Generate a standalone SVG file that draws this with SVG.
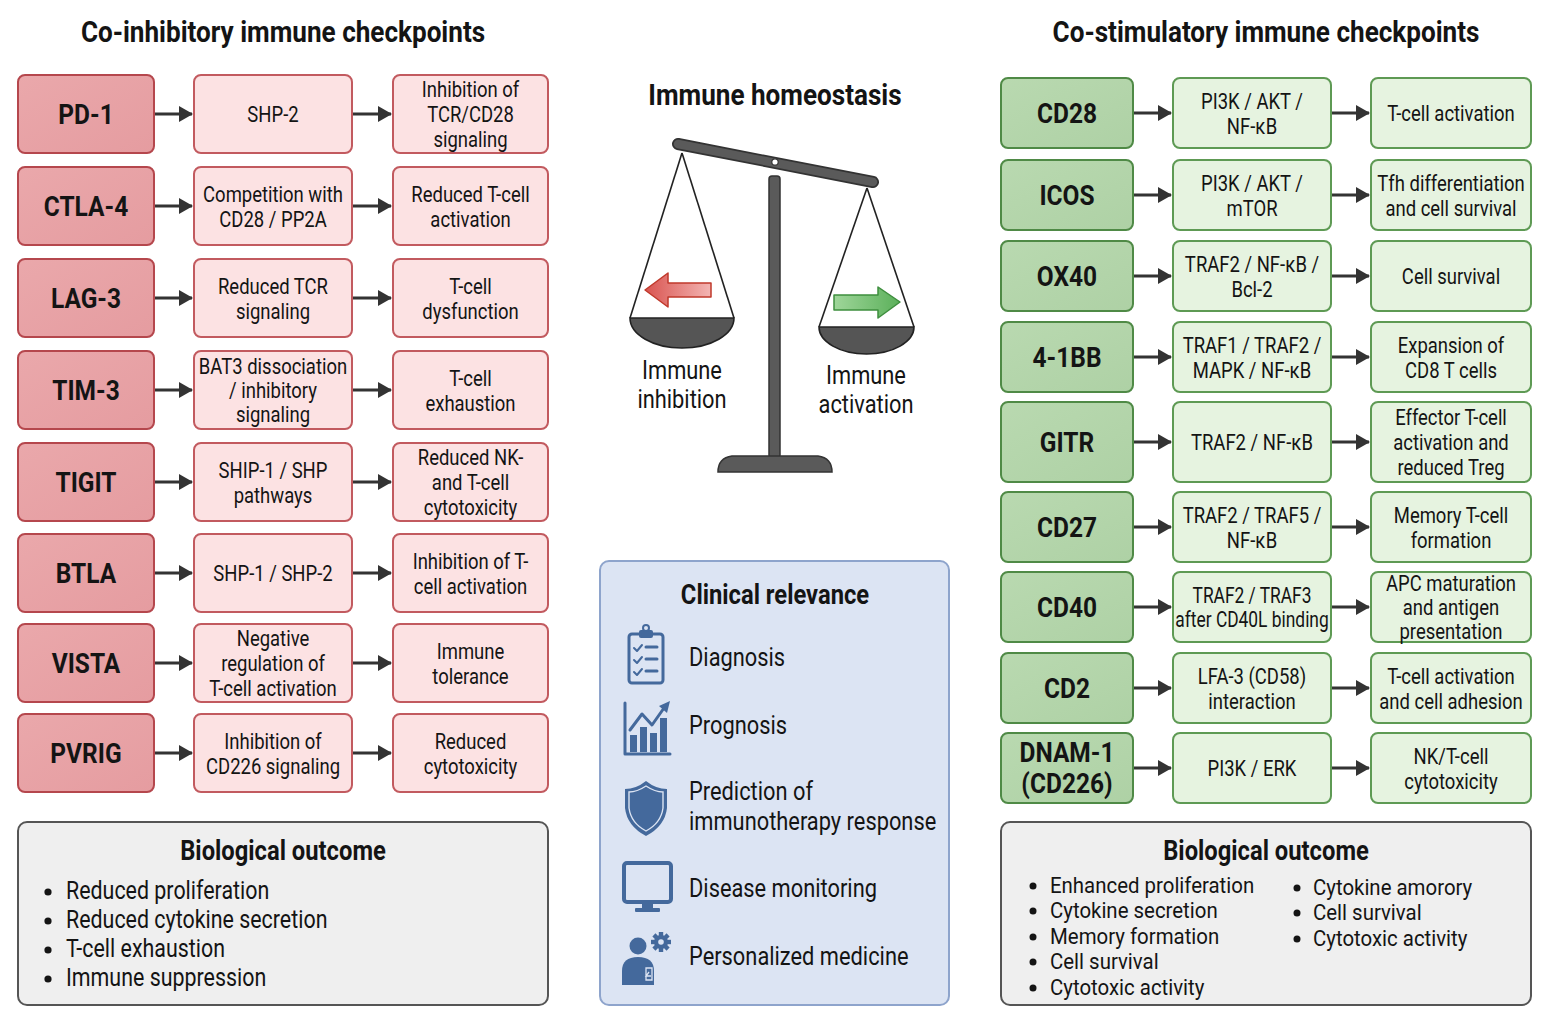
<svg xmlns="http://www.w3.org/2000/svg" width="1550" height="1024" viewBox="0 0 1550 1024">
<defs>
<style>
text{font-family:Roboto,"Liberation Sans",sans-serif;fill:#141414}
.h{font-size:30px;font-weight:700;text-anchor:middle}
.lb{font-size:28.5px;font-weight:700;text-anchor:middle}
.tx{font-size:22px;text-anchor:middle}
.bt{font-size:27px;font-weight:700;text-anchor:middle}
.li{font-size:25.5px}
.lr{font-size:21.5px}
.ci{font-size:26px}
.sl{font-size:26px;text-anchor:middle}
.r1{fill:#e8a4a7;stroke:#b5474d;stroke-width:2}
.r2{fill:#fce2e3;stroke:#c25a5f;stroke-width:2}
.g1{fill:#b5d6ac;stroke:#4f8a46;stroke-width:2}
.g2{fill:#e6f3e0;stroke:#5e9a54;stroke-width:2}
.con line{stroke:#333;stroke-width:3}
.ic{fill:#44699c}
.ics{fill:none;stroke:#44699c;stroke-width:3;stroke-linecap:round;stroke-linejoin:round}
</style>
<marker id="ah" markerUnits="userSpaceOnUse" markerWidth="14" markerHeight="16" refX="13" refY="8" orient="auto">
<path d="M0,0 L14,8 L0,16 Z" fill="#333"/>
</marker>
<linearGradient id="redg" x1="0" x2="1" y1="0" y2="0"><stop offset="0" stop-color="#d9534f"/><stop offset="1" stop-color="#f3b5b3"/></linearGradient>
<linearGradient id="grng" x1="0" x2="1" y1="0" y2="0"><stop offset="0" stop-color="#9fd69a"/><stop offset="1" stop-color="#5bb05a"/></linearGradient>
<linearGradient id="r1g" x1="0" x2="1" y1="0" y2="1"><stop offset="0" stop-color="#eaa8ab"/><stop offset="1" stop-color="#e59ca0"/></linearGradient>
<linearGradient id="g1g" x1="0" x2="1" y1="0" y2="1"><stop offset="0" stop-color="#b9d9b0"/><stop offset="1" stop-color="#aed1a5"/></linearGradient>
</defs>
<rect width="1550" height="1024" fill="#ffffff"/>

<!-- Titles -->
<text class="h" transform="translate(283,42) scale(0.87,1)">Co-inhibitory immune checkpoints</text>
<text class="h" transform="translate(1266,42) scale(0.87,1)">Co-stimulatory immune checkpoints</text>
<text class="h" transform="translate(775,105) scale(0.87,1)">Immune homeostasis</text>

<!-- LEFT COLUMN NODES -->
<g id="pd1"><rect class="r1" style="fill:url(#r1g)" x="18" y="75" width="136" height="78" rx="7"/><text class="lb" transform="translate(86,114) scale(0.86,1)"><tspan x="0" y="10">PD-1</tspan></text></g>
<g id="pd1-m"><rect class="r2" x="194" y="75" width="158" height="78" rx="7"/><text class="tx" transform="translate(273,114) scale(0.84,1)"><tspan x="0" y="8">SHP-2</tspan></text></g>
<g id="pd1-o"><rect class="r2" x="393" y="75" width="155" height="78" rx="7"/><text class="tx" transform="translate(470.5,114) scale(0.84,1)"><tspan x="0" y="-17">Inhibition of</tspan><tspan x="0" y="8">TCR/CD28</tspan><tspan x="0" y="33">signaling</tspan></text></g>

<g id="ctla4"><rect class="r1" style="fill:url(#r1g)" x="18" y="167" width="136" height="78" rx="7"/><text class="lb" transform="translate(86,206) scale(0.86,1)"><tspan x="0" y="10">CTLA-4</tspan></text></g>
<g id="ctla4-m"><rect class="r2" x="194" y="167" width="158" height="78" rx="7"/><text class="tx" transform="translate(273,206) scale(0.84,1)"><tspan x="0" y="-4.5">Competition with</tspan><tspan x="0" y="20.5">CD28 / PP2A</tspan></text></g>
<g id="ctla4-o"><rect class="r2" x="393" y="167" width="155" height="78" rx="7"/><text class="tx" transform="translate(470.5,206) scale(0.84,1)"><tspan x="0" y="-4.5">Reduced T-cell</tspan><tspan x="0" y="20.5">activation</tspan></text></g>

<g id="lag3"><rect class="r1" style="fill:url(#r1g)" x="18" y="259" width="136" height="78" rx="7"/><text class="lb" transform="translate(86,298) scale(0.86,1)"><tspan x="0" y="10">LAG-3</tspan></text></g>
<g id="lag3-m"><rect class="r2" x="194" y="259" width="158" height="78" rx="7"/><text class="tx" transform="translate(273,298) scale(0.84,1)"><tspan x="0" y="-4.5">Reduced TCR</tspan><tspan x="0" y="20.5">signaling</tspan></text></g>
<g id="lag3-o"><rect class="r2" x="393" y="259" width="155" height="78" rx="7"/><text class="tx" transform="translate(470.5,298) scale(0.84,1)"><tspan x="0" y="-4.5">T-cell</tspan><tspan x="0" y="20.5">dysfunction</tspan></text></g>

<g id="tim3"><rect class="r1" style="fill:url(#r1g)" x="18" y="351" width="136" height="78" rx="7"/><text class="lb" transform="translate(86,390) scale(0.86,1)"><tspan x="0" y="10">TIM-3</tspan></text></g>
<g id="tim3-m"><rect class="r2" x="194" y="351" width="158" height="78" rx="7"/><text class="tx" transform="translate(273,390) scale(0.84,1)"><tspan x="0" y="-16">BAT3 dissociation</tspan><tspan x="0" y="8">/ inhibitory</tspan><tspan x="0" y="32">signaling</tspan></text></g>
<g id="tim3-o"><rect class="r2" x="393" y="351" width="155" height="78" rx="7"/><text class="tx" transform="translate(470.5,390) scale(0.84,1)"><tspan x="0" y="-4.5">T-cell</tspan><tspan x="0" y="20.5">exhaustion</tspan></text></g>

<g id="tigit"><rect class="r1" style="fill:url(#r1g)" x="18" y="443" width="136" height="78" rx="7"/><text class="lb" transform="translate(86,482) scale(0.86,1)"><tspan x="0" y="10">TIGIT</tspan></text></g>
<g id="tigit-m"><rect class="r2" x="194" y="443" width="158" height="78" rx="7"/><text class="tx" transform="translate(273,482) scale(0.84,1)"><tspan x="0" y="-4.5">SHIP-1 / SHP</tspan><tspan x="0" y="20.5">pathways</tspan></text></g>
<g id="tigit-o"><rect class="r2" x="393" y="443" width="155" height="78" rx="7"/><text class="tx" transform="translate(470.5,482) scale(0.84,1)"><tspan x="0" y="-17">Reduced NK-</tspan><tspan x="0" y="8">and T-cell</tspan><tspan x="0" y="33">cytotoxicity</tspan></text></g>

<g id="btla"><rect class="r1" style="fill:url(#r1g)" x="18" y="534" width="136" height="78" rx="7"/><text class="lb" transform="translate(86,573) scale(0.86,1)"><tspan x="0" y="10">BTLA</tspan></text></g>
<g id="btla-m"><rect class="r2" x="194" y="534" width="158" height="78" rx="7"/><text class="tx" transform="translate(273,573) scale(0.84,1)"><tspan x="0" y="8">SHP-1 / SHP-2</tspan></text></g>
<g id="btla-o"><rect class="r2" x="393" y="534" width="155" height="78" rx="7"/><text class="tx" transform="translate(470.5,573) scale(0.84,1)"><tspan x="0" y="-4.5">Inhibition of T-</tspan><tspan x="0" y="20.5">cell activation</tspan></text></g>

<g id="vista"><rect class="r1" style="fill:url(#r1g)" x="18" y="624" width="136" height="78" rx="7"/><text class="lb" transform="translate(86,663) scale(0.86,1)"><tspan x="0" y="10">VISTA</tspan></text></g>
<g id="vista-m"><rect class="r2" x="194" y="624" width="158" height="78" rx="7"/><text class="tx" transform="translate(273,663) scale(0.84,1)"><tspan x="0" y="-17">Negative</tspan><tspan x="0" y="8">regulation of</tspan><tspan x="0" y="33">T-cell activation</tspan></text></g>
<g id="vista-o"><rect class="r2" x="393" y="624" width="155" height="78" rx="7"/><text class="tx" transform="translate(470.5,663) scale(0.84,1)"><tspan x="0" y="-4.5">Immune</tspan><tspan x="0" y="20.5">tolerance</tspan></text></g>

<g id="pvrig"><rect class="r1" style="fill:url(#r1g)" x="18" y="714" width="136" height="78" rx="7"/><text class="lb" transform="translate(86,753) scale(0.86,1)"><tspan x="0" y="10">PVRIG</tspan></text></g>
<g id="pvrig-m"><rect class="r2" x="194" y="714" width="158" height="78" rx="7"/><text class="tx" transform="translate(273,753) scale(0.84,1)"><tspan x="0" y="-4.5">Inhibition of</tspan><tspan x="0" y="20.5">CD226 signaling</tspan></text></g>
<g id="pvrig-o"><rect class="r2" x="393" y="714" width="155" height="78" rx="7"/><text class="tx" transform="translate(470.5,753) scale(0.84,1)"><tspan x="0" y="-4.5">Reduced</tspan><tspan x="0" y="20.5">cytotoxicity</tspan></text></g>

<!-- RIGHT COLUMN NODES -->
<g id="cd28"><rect class="g1" style="fill:url(#g1g)" x="1001" y="78" width="132" height="70" rx="7"/><text class="lb" transform="translate(1067,113) scale(0.86,1)"><tspan x="0" y="10">CD28</tspan></text></g>
<g id="cd28-m"><rect class="g2" x="1173" y="78" width="158" height="70" rx="7"/><text class="tx" transform="translate(1252,113) scale(0.84,1)"><tspan x="0" y="-4.5">PI3K / AKT /</tspan><tspan x="0" y="20.5">NF-κB</tspan></text></g>
<g id="cd28-o"><rect class="g2" x="1371" y="78" width="160" height="70" rx="7"/><text class="tx" transform="translate(1451,113) scale(0.84,1)"><tspan x="0" y="8">T-cell activation</tspan></text></g>

<g id="icos"><rect class="g1" style="fill:url(#g1g)" x="1001" y="160" width="132" height="70" rx="7"/><text class="lb" transform="translate(1067,195) scale(0.86,1)"><tspan x="0" y="10">ICOS</tspan></text></g>
<g id="icos-m"><rect class="g2" x="1173" y="160" width="158" height="70" rx="7"/><text class="tx" transform="translate(1252,195) scale(0.84,1)"><tspan x="0" y="-4.5">PI3K / AKT /</tspan><tspan x="0" y="20.5">mTOR</tspan></text></g>
<g id="icos-o"><rect class="g2" x="1371" y="160" width="160" height="70" rx="7"/><text class="tx" transform="translate(1451,195) scale(0.84,1)"><tspan x="0" y="-4.5">Tfh differentiation</tspan><tspan x="0" y="20.5">and cell survival</tspan></text></g>

<g id="ox40"><rect class="g1" style="fill:url(#g1g)" x="1001" y="241" width="132" height="70" rx="7"/><text class="lb" transform="translate(1067,276) scale(0.86,1)"><tspan x="0" y="10">OX40</tspan></text></g>
<g id="ox40-m"><rect class="g2" x="1173" y="241" width="158" height="70" rx="7"/><text class="tx" transform="translate(1252,276) scale(0.84,1)"><tspan x="0" y="-4.5">TRAF2 / NF-κB /</tspan><tspan x="0" y="20.5">Bcl-2</tspan></text></g>
<g id="ox40-o"><rect class="g2" x="1371" y="241" width="160" height="70" rx="7"/><text class="tx" transform="translate(1451,276) scale(0.84,1)"><tspan x="0" y="8">Cell survival</tspan></text></g>

<g id="cd137"><rect class="g1" style="fill:url(#g1g)" x="1001" y="322" width="132" height="70" rx="7"/><text class="lb" transform="translate(1067,357) scale(0.86,1)"><tspan x="0" y="10">4-1BB</tspan></text></g>
<g id="cd137-m"><rect class="g2" x="1173" y="322" width="158" height="70" rx="7"/><text class="tx" transform="translate(1252,357) scale(0.84,1)"><tspan x="0" y="-4.5">TRAF1 / TRAF2 /</tspan><tspan x="0" y="20.5">MAPK / NF-κB</tspan></text></g>
<g id="cd137-o"><rect class="g2" x="1371" y="322" width="160" height="70" rx="7"/><text class="tx" transform="translate(1451,357) scale(0.84,1)"><tspan x="0" y="-4.5">Expansion of</tspan><tspan x="0" y="20.5">CD8 T cells</tspan></text></g>

<g id="gitr"><rect class="g1" style="fill:url(#g1g)" x="1001" y="402" width="132" height="80" rx="7"/><text class="lb" transform="translate(1067,442) scale(0.86,1)"><tspan x="0" y="10">GITR</tspan></text></g>
<g id="gitr-m"><rect class="g2" x="1173" y="402" width="158" height="80" rx="7"/><text class="tx" transform="translate(1252,442) scale(0.84,1)"><tspan x="0" y="8">TRAF2 / NF-κB</tspan></text></g>
<g id="gitr-o"><rect class="g2" x="1371" y="402" width="160" height="80" rx="7"/><text class="tx" transform="translate(1451,442) scale(0.84,1)"><tspan x="0" y="-17">Effector T-cell</tspan><tspan x="0" y="8">activation and</tspan><tspan x="0" y="33">reduced Treg</tspan></text></g>

<g id="cd27"><rect class="g1" style="fill:url(#g1g)" x="1001" y="492" width="132" height="70" rx="7"/><text class="lb" transform="translate(1067,527) scale(0.86,1)"><tspan x="0" y="10">CD27</tspan></text></g>
<g id="cd27-m"><rect class="g2" x="1173" y="492" width="158" height="70" rx="7"/><text class="tx" transform="translate(1252,527) scale(0.84,1)"><tspan x="0" y="-4.5">TRAF2 / TRAF5 /</tspan><tspan x="0" y="20.5">NF-κB</tspan></text></g>
<g id="cd27-o"><rect class="g2" x="1371" y="492" width="160" height="70" rx="7"/><text class="tx" transform="translate(1451,527) scale(0.84,1)"><tspan x="0" y="-4.5">Memory T-cell</tspan><tspan x="0" y="20.5">formation</tspan></text></g>

<g id="cd40"><rect class="g1" style="fill:url(#g1g)" x="1001" y="572" width="132" height="70" rx="7"/><text class="lb" transform="translate(1067,607) scale(0.86,1)"><tspan x="0" y="10">CD40</tspan></text></g>
<g id="cd40-m"><rect class="g2" x="1173" y="572" width="158" height="70" rx="7"/><text class="tx" transform="translate(1252,607) scale(0.79,1)"><tspan x="0" y="-4.5">TRAF2 / TRAF3</tspan><tspan x="0" y="20.5">after CD40L binding</tspan></text></g>
<g id="cd40-o"><rect class="g2" x="1371" y="572" width="160" height="70" rx="7"/><text class="tx" transform="translate(1451,607) scale(0.84,1)"><tspan x="0" y="-16">APC maturation</tspan><tspan x="0" y="8">and antigen</tspan><tspan x="0" y="32">presentation</tspan></text></g>

<g id="cd2"><rect class="g1" style="fill:url(#g1g)" x="1001" y="653" width="132" height="70" rx="7"/><text class="lb" transform="translate(1067,688) scale(0.86,1)"><tspan x="0" y="10">CD2</tspan></text></g>
<g id="cd2-m"><rect class="g2" x="1173" y="653" width="158" height="70" rx="7"/><text class="tx" transform="translate(1252,688) scale(0.84,1)"><tspan x="0" y="-4.5">LFA-3 (CD58)</tspan><tspan x="0" y="20.5">interaction</tspan></text></g>
<g id="cd2-o"><rect class="g2" x="1371" y="653" width="160" height="70" rx="7"/><text class="tx" transform="translate(1451,688) scale(0.84,1)"><tspan x="0" y="-4.5">T-cell activation</tspan><tspan x="0" y="20.5">and cell adhesion</tspan></text></g>

<g id="dnam1"><rect class="g1" style="fill:url(#g1g)" x="1001" y="733" width="132" height="70" rx="7"/><text class="lb" transform="translate(1067,768) scale(0.86,1)"><tspan x="0" y="-6">DNAM-1</tspan><tspan x="0" y="25">(CD226)</tspan></text></g>
<g id="dnam1-m"><rect class="g2" x="1173" y="733" width="158" height="70" rx="7"/><text class="tx" transform="translate(1252,768) scale(0.84,1)"><tspan x="0" y="8">PI3K / ERK</tspan></text></g>
<g id="dnam1-o"><rect class="g2" x="1371" y="733" width="160" height="70" rx="7"/><text class="tx" transform="translate(1451,768) scale(0.84,1)"><tspan x="0" y="-4.5">NK/T-cell</tspan><tspan x="0" y="20.5">cytotoxicity</tspan></text></g>

<!-- CONNECTORS -->
<g id="connectors" class="con">
<line x1="155" y1="114" x2="192" y2="114" marker-end="url(#ah)"/><line x1="353" y1="114" x2="391" y2="114" marker-end="url(#ah)"/>
<line x1="155" y1="206" x2="192" y2="206" marker-end="url(#ah)"/><line x1="353" y1="206" x2="391" y2="206" marker-end="url(#ah)"/>
<line x1="155" y1="298" x2="192" y2="298" marker-end="url(#ah)"/><line x1="353" y1="298" x2="391" y2="298" marker-end="url(#ah)"/>
<line x1="155" y1="390" x2="192" y2="390" marker-end="url(#ah)"/><line x1="353" y1="390" x2="391" y2="390" marker-end="url(#ah)"/>
<line x1="155" y1="482" x2="192" y2="482" marker-end="url(#ah)"/><line x1="353" y1="482" x2="391" y2="482" marker-end="url(#ah)"/>
<line x1="155" y1="573" x2="192" y2="573" marker-end="url(#ah)"/><line x1="353" y1="573" x2="391" y2="573" marker-end="url(#ah)"/>
<line x1="155" y1="663" x2="192" y2="663" marker-end="url(#ah)"/><line x1="353" y1="663" x2="391" y2="663" marker-end="url(#ah)"/>
<line x1="155" y1="753" x2="192" y2="753" marker-end="url(#ah)"/><line x1="353" y1="753" x2="391" y2="753" marker-end="url(#ah)"/>
<line x1="1134" y1="113" x2="1171" y2="113" marker-end="url(#ah)"/><line x1="1332" y1="113" x2="1369" y2="113" marker-end="url(#ah)"/>
<line x1="1134" y1="195" x2="1171" y2="195" marker-end="url(#ah)"/><line x1="1332" y1="195" x2="1369" y2="195" marker-end="url(#ah)"/>
<line x1="1134" y1="276" x2="1171" y2="276" marker-end="url(#ah)"/><line x1="1332" y1="276" x2="1369" y2="276" marker-end="url(#ah)"/>
<line x1="1134" y1="357" x2="1171" y2="357" marker-end="url(#ah)"/><line x1="1332" y1="357" x2="1369" y2="357" marker-end="url(#ah)"/>
<line x1="1134" y1="442" x2="1171" y2="442" marker-end="url(#ah)"/><line x1="1332" y1="442" x2="1369" y2="442" marker-end="url(#ah)"/>
<line x1="1134" y1="527" x2="1171" y2="527" marker-end="url(#ah)"/><line x1="1332" y1="527" x2="1369" y2="527" marker-end="url(#ah)"/>
<line x1="1134" y1="607" x2="1171" y2="607" marker-end="url(#ah)"/><line x1="1332" y1="607" x2="1369" y2="607" marker-end="url(#ah)"/>
<line x1="1134" y1="688" x2="1171" y2="688" marker-end="url(#ah)"/><line x1="1332" y1="688" x2="1369" y2="688" marker-end="url(#ah)"/>
<line x1="1134" y1="768" x2="1171" y2="768" marker-end="url(#ah)"/><line x1="1332" y1="768" x2="1369" y2="768" marker-end="url(#ah)"/>
</g>

<!-- BALANCE SCALE -->
<g id="balance">
<line x1="682" y1="153" x2="630" y2="318" stroke="#222" stroke-width="1.6"/>
<line x1="682" y1="153" x2="734" y2="318" stroke="#222" stroke-width="1.6"/>
<line x1="867" y1="188" x2="819" y2="327" stroke="#222" stroke-width="1.6"/>
<line x1="867" y1="188" x2="914" y2="327" stroke="#222" stroke-width="1.6"/>
<rect x="769" y="176" width="11" height="282" rx="3" fill="#5a5a5a" stroke="#333" stroke-width="1.5"/>
<path d="M718,472 L832,472 Q832,458 818,456 L732,456 Q718,458 718,472 Z" fill="#5a5a5a" stroke="#333" stroke-width="1.5"/>
<line x1="678" y1="144" x2="873" y2="182" stroke="#333" stroke-width="12" stroke-linecap="round"/>
<line x1="678" y1="144" x2="873" y2="182" stroke="#5a5a5a" stroke-width="8.5" stroke-linecap="round"/>
<circle cx="775" cy="162" r="3.2" fill="#fff" stroke="#333" stroke-width="1.2"/>
<path d="M630,318 A52,30 0 0 0 734,318 Z" fill="#555" stroke="#222" stroke-width="1.6"/>
<path d="M819,327 A47.5,27 0 0 0 914,327 Z" fill="#555" stroke="#222" stroke-width="1.6"/>
<polygon points="645,290 668,273 668,283 711,283 711,297 668,297 668,307" fill="url(#redg)" stroke="#c0392b" stroke-width="1.5" stroke-linejoin="round"/>
<polygon points="834,295 878,295 878,287 900,302 878,318 878,310 834,310" fill="url(#grng)" stroke="#3e8e3e" stroke-width="1.5" stroke-linejoin="round"/>
<text class="sl" transform="translate(682,379) scale(0.84,1)"><tspan x="0" y="0">Immune</tspan><tspan x="0" y="29">inhibition</tspan></text>
<text class="sl" transform="translate(866,384) scale(0.84,1)"><tspan x="0" y="0">Immune</tspan><tspan x="0" y="29">activation</tspan></text>
</g>

<!-- CLINICAL RELEVANCE -->
<g id="clinical">
<rect x="600" y="561" width="349" height="444" rx="9" fill="#dce4f3" stroke="#8ea4cc" stroke-width="2"/>
<text class="bt" transform="translate(775,604) scale(0.88,1)">Clinical relevance</text>
<!-- clipboard -->
<rect x="629" y="634" width="34" height="49" rx="3" class="ics"/>
<rect x="639" y="630" width="14" height="8" rx="2" class="ic"/>
<circle cx="646" cy="628" r="3" fill="none" stroke="#44699c" stroke-width="2"/>
<path d="M634,648 l3,3 l5,-6 M634,660 l3,3 l5,-6 M634,672 l3,3 l5,-6" class="ics" style="stroke-width:2"/>
<path d="M646,647 h11 M646,659 h11 M646,671 h11" class="ics"/>
<!-- chart -->
<path d="M625,703 L625,754 L670,754" class="ics"/>
<rect x="630" y="735" width="7" height="17" class="ic"/>
<rect x="640" y="727" width="7" height="25" class="ic"/>
<rect x="650" y="733" width="7" height="19" class="ic"/>
<rect x="660" y="718" width="7" height="34" class="ic"/>
<polyline points="630,730 642,714 652,725 664,708" class="ics"/>
<path d="M659,706 L670,701 L667,713 Z" class="ic"/>
<!-- shield -->
<path d="M646,781 Q656,789 667,789 L667,808 Q665,826 646,836 Q627,826 625,808 L625,789 Q636,789 646,781 Z" class="ic"/>
<path d="M646,786 Q655,792 663,792 L663,808 Q661,823 646,831 Q631,823 629,808 L629,792 Q637,792 646,786 Z" fill="none" stroke="#dce4f3" stroke-width="1.4"/>
<!-- monitor -->
<rect x="624" y="863" width="47" height="39" rx="3" fill="none" stroke="#44699c" stroke-width="4"/>
<rect x="642" y="902" width="11" height="7" class="ic"/>
<rect x="635" y="908" width="25" height="4" rx="1" class="ic"/>
<!-- person + gear -->
<circle cx="638" cy="946" r="8.5" class="ic"/>
<path d="M622,985 L622,971 Q622,957 638,957 Q654,957 654,971 L654,985 Z" class="ic"/>
<path d="M646,968 h6 v12 h-6 z M649,972 l-3,4 h5" fill="none" stroke="#dce4f3" stroke-width="1.3"/>
<g transform="translate(661,942)" class="ic">
<circle r="7"/>
<rect x="-2.2" y="-10" width="4.4" height="5" transform="rotate(0)"/>
<rect x="-2.2" y="-10" width="4.4" height="5" transform="rotate(45)"/>
<rect x="-2.2" y="-10" width="4.4" height="5" transform="rotate(90)"/>
<rect x="-2.2" y="-10" width="4.4" height="5" transform="rotate(135)"/>
<rect x="-2.2" y="-10" width="4.4" height="5" transform="rotate(180)"/>
<rect x="-2.2" y="-10" width="4.4" height="5" transform="rotate(225)"/>
<rect x="-2.2" y="-10" width="4.4" height="5" transform="rotate(270)"/>
<rect x="-2.2" y="-10" width="4.4" height="5" transform="rotate(315)"/>
<circle r="2.8" fill="#dce4f3"/>
</g>
<text class="ci" transform="translate(689,666) scale(0.84,1)">Diagnosis</text>
<text class="ci" transform="translate(689,734) scale(0.84,1)">Prognosis</text>
<text class="ci" transform="translate(689,800) scale(0.84,1)"><tspan x="0" y="0">Prediction of</tspan><tspan x="0" y="30">immunotherapy response</tspan></text>
<text class="ci" transform="translate(689,897) scale(0.84,1)">Disease monitoring</text>
<text class="ci" transform="translate(689,965) scale(0.84,1)">Personalized medicine</text>
</g>

<!-- BIOLOGICAL OUTCOME LEFT -->
<g id="outcome-inhibitory">
<rect x="18" y="822" width="530" height="183" rx="9" fill="#efefef" stroke="#555" stroke-width="2"/>
<text class="bt" transform="translate(283,860) scale(0.88,1)">Biological outcome</text>
<circle cx="48" cy="892" r="3.6" fill="#141414"/><circle cx="48" cy="921" r="3.6" fill="#141414"/><circle cx="48" cy="950" r="3.6" fill="#141414"/><circle cx="48" cy="979" r="3.6" fill="#141414"/>
<text class="li" transform="translate(66,899) scale(0.84,1)">Reduced proliferation</text>
<text class="li" transform="translate(66,928) scale(0.84,1)">Reduced cytokine secretion</text>
<text class="li" transform="translate(66,957) scale(0.84,1)">T-cell exhaustion</text>
<text class="li" transform="translate(66,986) scale(0.84,1)">Immune suppression</text>
</g>

<!-- BIOLOGICAL OUTCOME RIGHT -->
<g id="outcome-stimulatory">
<rect x="1001" y="822" width="530" height="183" rx="9" fill="#efefef" stroke="#555" stroke-width="2"/>
<text class="bt" transform="translate(1266,860) scale(0.88,1)">Biological outcome</text>
<circle cx="1033" cy="886" r="3.5" fill="#141414"/><circle cx="1033" cy="911" r="3.5" fill="#141414"/><circle cx="1033" cy="937" r="3.5" fill="#141414"/><circle cx="1033" cy="962" r="3.5" fill="#141414"/><circle cx="1033" cy="988" r="3.5" fill="#141414"/>
<text class="lr" transform="translate(1050,893) scale(0.95,1)">Enhanced proliferation</text>
<text class="lr" transform="translate(1050,918) scale(0.95,1)">Cytokine secretion</text>
<text class="lr" transform="translate(1050,944) scale(0.95,1)">Memory formation</text>
<text class="lr" transform="translate(1050,969) scale(0.95,1)">Cell survival</text>
<text class="lr" transform="translate(1050,995) scale(0.95,1)">Cytotoxic activity</text>
<circle cx="1297" cy="888" r="3.5" fill="#141414"/><circle cx="1297" cy="913" r="3.5" fill="#141414"/><circle cx="1297" cy="939" r="3.5" fill="#141414"/>
<text class="lr" transform="translate(1313,895) scale(0.95,1)">Cytokine amorory</text>
<text class="lr" transform="translate(1313,920) scale(0.95,1)">Cell survival</text>
<text class="lr" transform="translate(1313,946) scale(0.95,1)">Cytotoxic activity</text>
</g>
</svg>
